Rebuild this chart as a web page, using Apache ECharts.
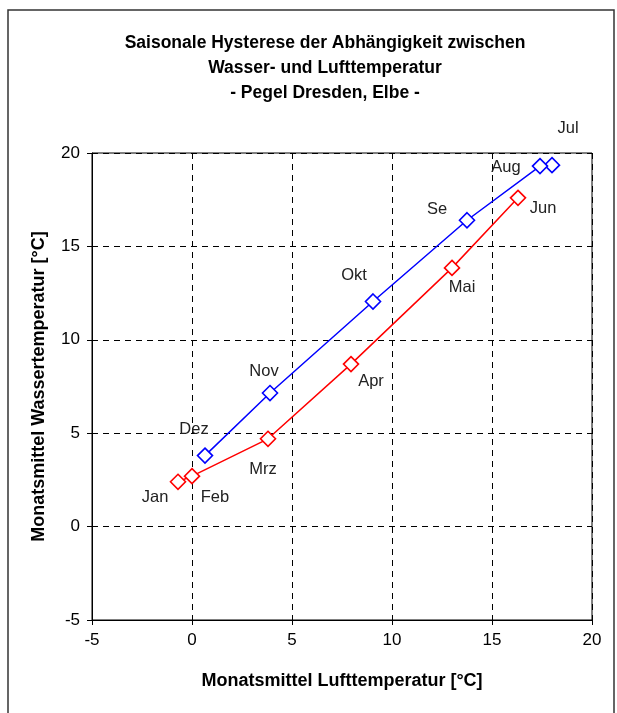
<!DOCTYPE html>
<html>
<head>
<meta charset="utf-8">
<script src="https://cdn.jsdelivr.net/npm/echarts@6/dist/echarts.min.js"></script>
<style>html,body{margin:0;padding:0;background:#fff;}#c{width:617px;height:713px;}</style>
</head>
<body>
<div id="c"></div>
<script>
// First half of the year (red)
const monthsA = ['Jan', 'Feb', 'Mrz', 'Apr', 'Mai', 'Jun'];
const airA = [-0.7, 0.0, 3.8, 7.95, 13.0, 16.3];
const waterA = [2.4, 2.7, 4.7, 8.7, 13.85, 17.6];
// Second half of the year (blue)
const monthsB = ['Jul', 'Aug', 'Se', 'Okt', 'Nov', 'Dez'];
const airB = [18.0, 17.4, 13.75, 9.05, 3.9, 0.65];
const waterB = [19.35, 19.3, 16.4, 12.05, 7.15, 3.8];
// Axis ticks
const xTicks = [-5, 0, 5, 10, 15, 20];
const yTicks = [-5, 0, 5, 10, 15, 20];

// label offsets (px) for month annotations
const offA = [[-23, 16], [23, 21], [-5, 31], [20, 17], [10, 20], [25, 11]];
const offB = [[16, -37], [-34, 1], [-30, -11], [-19, -26], [-6, -22], [-11, -26]];

const FONT = '"Liberation Sans", Arial, sans-serif';

function build(months, xs, ys, offs) {
  return months.map((m, i) => ({
    value: [xs[i], ys[i]],
    name: m,
    label: { offset: offs[i] }
  }));
}

function lineSeries(name, color, data) {
  return {
    name: name,
    type: 'line',
    data: data,
    symbol: 'diamond',
    symbolSize: 15,
    itemStyle: { color: '#fff', borderColor: color, borderWidth: 1.6 },
    lineStyle: { color: color, width: 1.5 },
    label: {
      show: true,
      position: 'inside',
      formatter: p => p.name,
      fontFamily: FONT,
      fontSize: 16.5,
      color: '#222'
    },
    animation: false,
    z: 3
  };
}

const chart = echarts.init(document.getElementById('c'));
chart.setOption({
  animation: false,
  backgroundColor: '#fff',
  title: {
    text: 'Saisonale Hysterese der Abhängigkeit zwischen\nWasser- und Lufttemperatur\n- Pegel Dresden, Elbe -',
    left: 320,
    textAlign: 'center',
    top: 26,
    textStyle: { fontFamily: FONT, fontSize: 17.5, fontWeight: 'bold', color: '#000', lineHeight: 25 }
  },
  graphic: [{
    type: 'rect',
    shape: { x: 8, y: 10, width: 606, height: 720 },
    style: { fill: 'none', stroke: '#333', lineWidth: 1.5 },
    silent: true
  }],
  grid: {
    left: 92, top: 153, right: 25, bottom: 93,
    show: true, borderColor: '#000', borderWidth: 1
  },
  xAxis: {
    type: 'value',
    min: xTicks[0], max: xTicks[xTicks.length - 1], interval: 5,
    name: 'Monatsmittel Lufttemperatur [°C]',
    nameLocation: 'middle',
    nameGap: 52,
    nameTextStyle: { fontFamily: FONT, fontSize: 18, fontWeight: 'bold', color: '#000' },
    axisLine: { onZero: false, lineStyle: { color: '#000', width: 1 } },
    axisTick: { show: true, inside: false, length: 5, lineStyle: { color: '#000' } },
    axisLabel: { fontFamily: FONT, fontSize: 17, color: '#000', margin: 12 },
    splitLine: { show: true, lineStyle: { color: '#000', type: [6, 5], width: 1 } }
  },
  yAxis: {
    type: 'value',
    min: yTicks[0], max: yTicks[yTicks.length - 1], interval: 5,
    name: 'Monatsmittel Wassertemperatur [°C]',
    nameLocation: 'middle',
    nameGap: 44,
    nameRotate: 90,
    nameTextStyle: { fontFamily: FONT, fontSize: 18, fontWeight: 'bold', color: '#000' },
    axisLine: { show: true, onZero: false, lineStyle: { color: '#000', width: 1 } },
    axisTick: { show: true, inside: false, length: 5, lineStyle: { color: '#000' } },
    axisLabel: { fontFamily: FONT, fontSize: 17, color: '#000', margin: 12 },
    splitLine: { show: true, lineStyle: { color: '#000', type: [6, 5], width: 1 } }
  },
  series: [
    lineSeries('Jan-Jun', '#ff0000', build(monthsA, airA, waterA, offA)),
    lineSeries('Jul-Dez', '#0000ff', build(monthsB, airB, waterB, offB))
  ]
});
</script>
</body>
</html>
